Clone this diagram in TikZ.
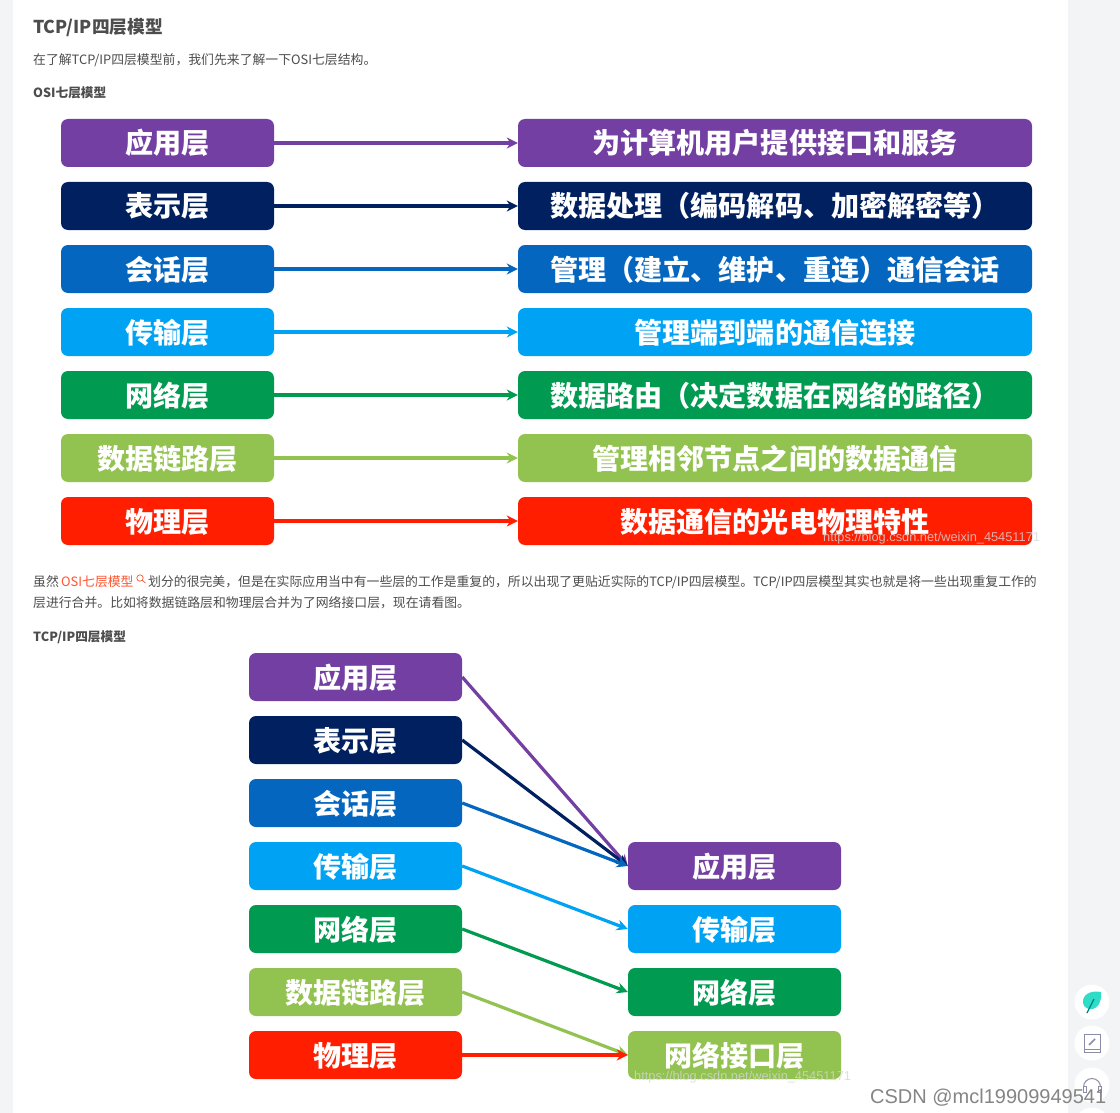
\documentclass[tikz,border=0pt]{standalone}
\usepackage{fontspec}
\usetikzlibrary{arrows.meta}
\setmainfont{Noto Sans CJK SC}
\newfontfamily\latinfont{Liberation Sans}
\definecolor{layerA}{HTML}{743FA3}
\definecolor{layerB}{HTML}{002060}
\definecolor{layerC}{HTML}{0566BF}
\definecolor{layerD}{HTML}{00A2F3}
\definecolor{layerE}{HTML}{009A50}
\definecolor{layerF}{HTML}{92C24F}
\definecolor{layerG}{HTML}{FF1E00}
\definecolor{page}{HTML}{F3F4F6}
\definecolor{body}{HTML}{4D4D4D}
\definecolor{linkred}{HTML}{FC5531}
\definecolor{icon}{HTML}{8C8CA8}
\definecolor{leafgreen}{HTML}{2EDCC8}
\definecolor{stamptext}{HTML}{D6D6D6}
\tikzset{
    layer/.style={rounded corners=7, minimum height=48, inner sep=0, text=white,
        text height=25, text depth=3, font=\fontsize{28.1}{28.1}\selectfont\bfseries},
    narrow/.style={layer, minimum width=213},
    wide/.style={layer, minimum width=514},
    link/.style={line width=3.2, -{Stealth[length=11pt, width=11pt]}},
    para/.style={anchor=base west, inner sep=0, text=body, font=\fontsize{12.85}{12.85}\selectfont},
    subhead/.style={para, font=\fontsize{12.65}{12.65}\selectfont\bfseries},
    stamp/.style={anchor=base west, inner sep=0, text=stamptext, opacity=.8,
        font=\latinfont\fontsize{12.8}{12.8}\selectfont},
    sidebtn/.style={circle, fill=white, minimum size=35, inner sep=0},
}
\begin{document}
\begin{tikzpicture}[x=1pt, y=-1pt]
\useasboundingbox (0, 0) rectangle (1120, 1113);
\clip (0, 0) rectangle (1120, 1113);
\fill[page] (0, 0) rectangle (1120, 1113);
\fill[white] (13, 0) rectangle (1068, 1113);
\node[para, font=\fontsize{17.7}{17.7}\selectfont\bfseries] (title) at (33, 34) {TCP/IP四层模型};
\node[para] (intro) at (33, 65) {在了解TCP/IP四层模型前，我们先来了解一下OSI七层结构。};
\node[subhead] (osi-title) at (33, 98) {OSI七层模型};
% seven layers and what each one does
\foreach \row/\y/\tint/\lname/\rname in {
    1/143/layerA/应用层/为计算机用户提供接口和服务,
    2/206/layerB/表示层/数据处理（编码解码、加密解密等）,
    3/269/layerC/会话层/管理（建立、维护、重连）通信会话,
    4/332/layerD/传输层/管理端到端的通信连接,
    5/395/layerE/网络层/数据路由（决定数据在网络的路径）,
    6/458/layerF/数据链路层/管理相邻节点之间的数据通信,
    7/521/layerG/物理层/数据通信的光电物理特性} {
    \node[narrow, fill=\tint] (osi-\row) at (167.5, \y) {\lname};
    \node[wide, fill=\tint] (desc-\row) at (775, \y) {\rname};
    \draw[link, color=\tint] (osi-\row.east) -- (desc-\row.west);
}
\node[stamp] (stamp-1) at (823, 541) {https://blog.csdn.net/weixin\_45451171};
\node[para] (para-1a) at (33, 586) {虽然};
\node[para, text=linkred] (para-link) at (61, 586) {OSI七层模型};
\draw[linkred, line width=.7] (140, 578) circle (3.2);
\draw[linkred, line width=.7] (142.3, 580.3) -- (145.5, 583);
\node[para] (para-1b) at (148, 586) {划分的很完美，但是在实际应用当中有一些层的工作是重复的，所以出现了更贴近实际的TCP/IP四层模型。TCP/IP四层模型其实也就是将一些出现重复工作的};
\node[para] (para-2) at (33, 607) {层进行合并。比如将数据链路层和物理层合并为了网络接口层，现在请看图。};
\node[subhead] (tcp-title) at (33, 641) {TCP/IP四层模型};
% the same seven layers merged into four
\foreach \row/\y/\tint/\lname in {
    1/677/layerA/应用层,
    2/740/layerB/表示层,
    3/803/layerC/会话层,
    4/866/layerD/传输层,
    5/929/layerE/网络层,
    6/992/layerF/数据链路层,
    7/1055/layerG/物理层} {
    \node[narrow, fill=\tint] (from-\row) at (355.5, \y) {\lname};
}
\foreach \row/\y/\tint/\lname in {
    1/866/layerA/应用层,
    2/929/layerD/传输层,
    3/992/layerE/网络层,
    4/1055/layerF/网络接口层} {
    \node[narrow, fill=\tint] (to-\row) at (734.5, \y) {\lname};
}
\foreach \a/\b/\tint in {1/1/layerA, 2/1/layerB, 3/1/layerC, 4/2/layerD, 5/3/layerE, 6/4/layerF, 7/4/layerG} {
    \draw[link, color=\tint] (from-\a.east) -- (to-\b.west);
}
\node[stamp] (stamp-2) at (634, 1080) {https://blog.csdn.net/weixin\_45451171};
% side buttons
\node[sidebtn] (leaf-btn) at (1092, 1002) {};
\node[sidebtn] (book-btn) at (1092, 1043) {};
\node[sidebtn] (head-btn) at (1092, 1085) {};
\node[sidebtn] (more-btn) at (1092, 1125) {};
\fill[leafgreen] (1101, 992) .. controls (1090, 990) and (1082, 995) .. (1083, 1003) .. controls (1084, 1008) and (1088, 1009) .. (1091, 1009) .. controls (1098, 1009) and (1102, 1001) .. (1101, 992);
\draw[teal, line width=1.3] (1094, 999) -- (1087, 1013);
\draw[icon, line width=1] (1084, 1034.5) rectangle (1100, 1052);
\draw[icon, line width=1] (1084, 1049) -- (1100, 1049);
\draw[icon, line width=1.6] (1089, 1045) -- (1095, 1039);
\draw[icon, line width=1] (1083.5, 1087) arc (180:360:8.5);
\draw[icon, line width=1] (1083, 1086) rectangle (1086, 1092);
\draw[icon, line width=1] (1098, 1086) rectangle (1101, 1092);
\node[anchor=base west, inner sep=0, text=black!48, font=\latinfont\fontsize{20}{20}\selectfont] (credit) at (870, 1103) {CSDN @mcl19909949541};
\end{tikzpicture}
\end{document}
